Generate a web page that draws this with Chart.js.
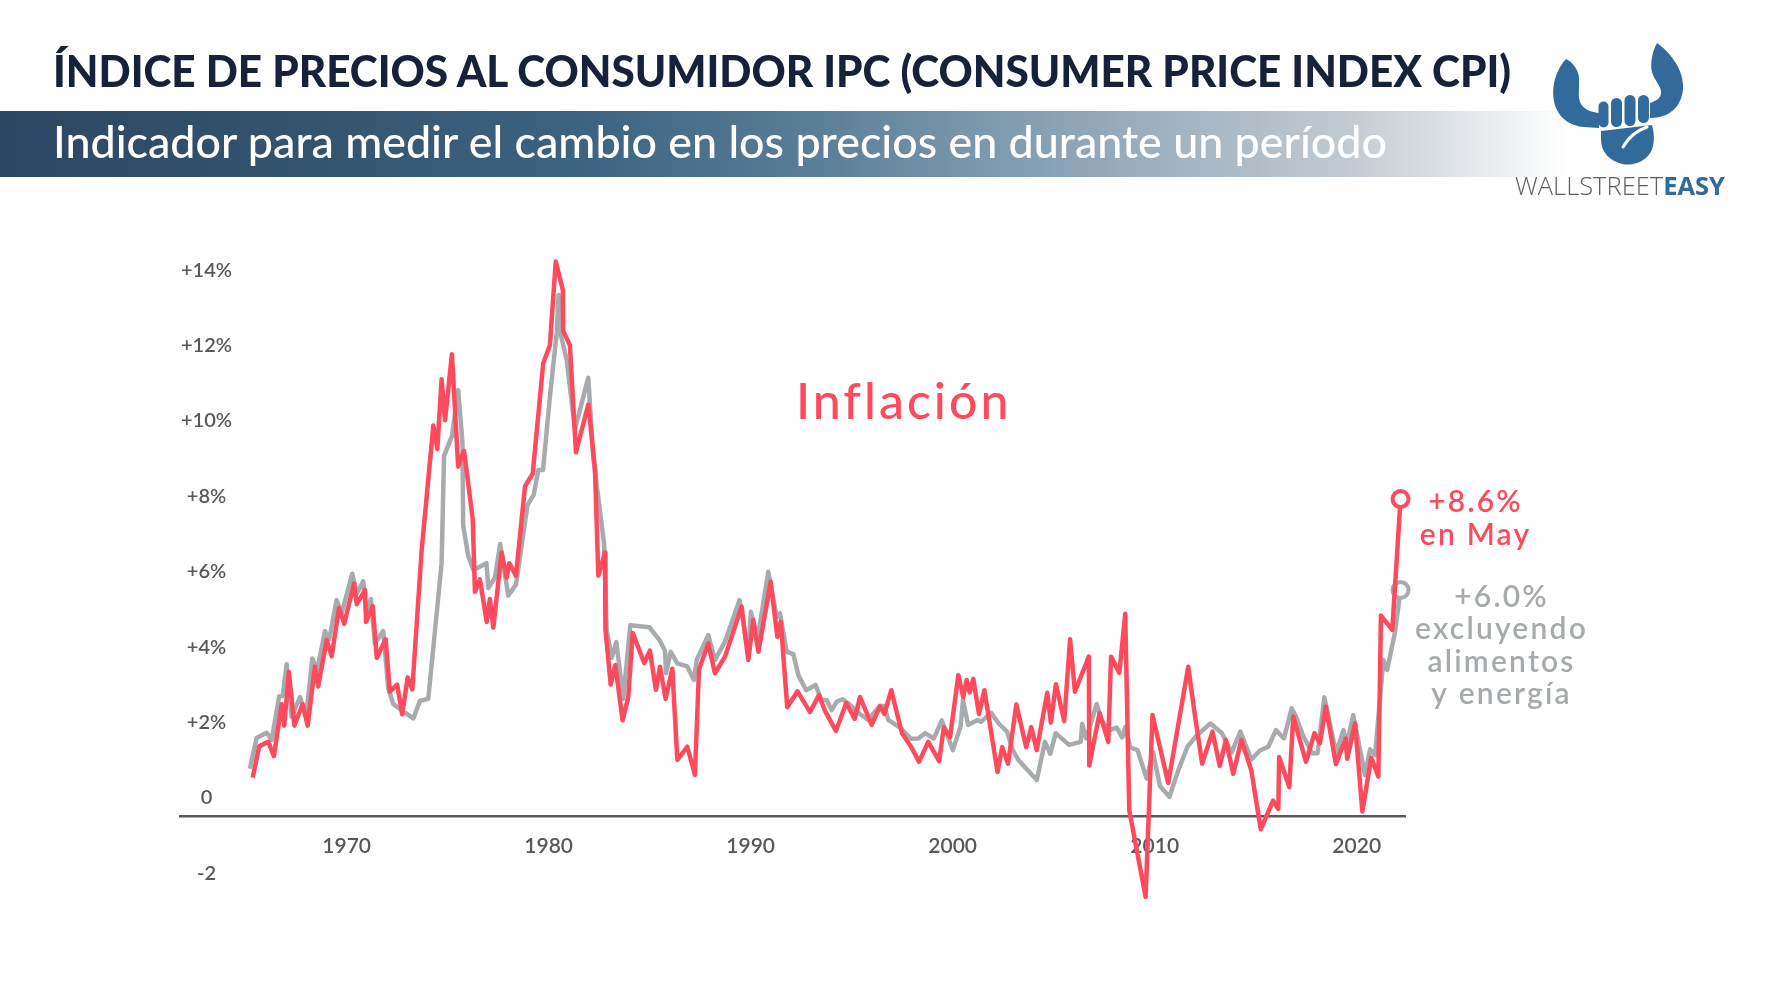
<!DOCTYPE html>
<html lang="es">
<head>
<meta charset="utf-8">
<title>Índice de precios al consumidor</title>
<script src="https://cdn.jsdelivr.net/npm/chart.js"></script>
<style>
  html, body { margin: 0; padding: 0; background: #ffffff; }
  #page { position: relative; width: 1771px; height: 1000px; overflow: hidden; background: #ffffff; }
  #chart { position: absolute; left: 0; top: 0; }
  #title { position: absolute; left: 53px; top: 48px; font: 900 44px/44px Lato, sans-serif; color: #17213a; white-space: nowrap; transform-origin: 0 0; }
  #banner { position: absolute; left: 0; top: 111px; width: 1565px; height: 66px;
    background: linear-gradient(to right, #2c4763 0%, #33546f 20%, #3d6482 38%, #5a7e98 52%, #7f9bb0 64%, #a4b5c2 76%, #c2cad1 86%, #e4e7ea 94%, rgba(255,255,255,0) 100%); }
  #subtitle { position: absolute; left: 53px; top: 119px; font: 500 44px/44px Lato, sans-serif; color: #ffffff; white-space: nowrap; transform-origin: 0 0; }
  #logo { position: absolute; left: 1480px; top: 30px; }
  #brand { position: absolute; left: 1515px; top: 173px; font: 25px/25px 'Open Sans', sans-serif; white-space: nowrap; transform-origin: 0 0; }
  #brand .wall { font-weight: 300; color: #5d5e60; }
  #brand .easy { font-weight: 700; color: #336a9c; }
</style>
</head>
<body>
<div id="page">
  <canvas id="chart" width="1771" height="1000"></canvas>
  <div id="title">ÍNDICE DE PRECIOS AL CONSUMIDOR IPC (CONSUMER PRICE INDEX CPI)</div>
  <div id="banner"></div>
  <div id="subtitle">Indicador para medir el cambio en los precios en durante un período</div>
  <svg id="logo" width="291" height="180" viewBox="0 0 291 180">
    <g fill="#336a9c">
      <path d="M86,29 C74,42 70,62 76,78 C81,90 92,96 104,97 L119,98 L119,83 C110,82 103,79 100,72 C97,64 101,52 98,43 C96,37 92,32 86,29 Z"/>
      <path d="M177,13 C190,22 202,38 203,54 C204,68 197,80 186,85 C181,87 176,88 170,88 L170,73 C176,71 181,68 181,63 C182,57 174,50 172,42 C170,34 172,22 177,13 Z"/>
      <rect x="118.5" y="71.5" width="10" height="26" rx="5"/>
      <rect x="131" y="68" width="11" height="29" rx="5.5"/>
      <rect x="144.5" y="65" width="11" height="31" rx="5.5"/>
      <rect x="158" y="65" width="11" height="28" rx="5.5"/>
      <path d="M121,101 L172,95 C175,106 175,118 168,126 C161,133 151,136 142,134 C130,131 121,122 121,110 Z"/>
    </g>
    <path d="M143,117 C148,108 156,101 167,97" fill="none" stroke="#ffffff" stroke-width="3" stroke-linecap="round"/>
  </svg>
  <div id="brand"><span class="wall">WALLSTREET</span><span class="easy">EASY</span></div>
</div>
<script>
// Year-over-year change, %; x positions are decimal years
const cpiYears = [
  1965.35, 1965.67, 1966.12, 1966.40, 1966.78, 1966.91, 1967.14, 1967.41, 1967.82, 1968.07,
  1968.43, 1968.59, 1969.01, 1969.26, 1969.62, 1969.88, 1970.36, 1970.50, 1970.91, 1970.96,
  1971.29, 1971.49, 1971.93, 1972.14, 1972.50, 1972.75, 1973.02, 1973.25, 1973.71, 1974.29,
  1974.49, 1974.70, 1974.87, 1975.21, 1975.52, 1975.81, 1976.24, 1976.35, 1976.60, 1976.93,
  1977.09, 1977.26, 1977.67, 1977.92, 1978.05, 1978.38, 1978.83, 1979.21, 1979.73, 1980.06,
  1980.35, 1980.70, 1980.72, 1981.05, 1981.35, 1981.96, 1982.29, 1982.46, 1982.79, 1982.81,
  1983.07, 1983.30, 1983.66, 1983.94, 1984.16, 1984.73, 1985.01, 1985.31, 1985.51, 1985.79,
  1986.12, 1986.37, 1986.86, 1987.24, 1987.44, 1987.90, 1988.23, 1988.73, 1989.55, 1989.88,
  1990.13, 1990.38, 1990.99, 1991.32, 1991.49, 1991.81, 1992.32, 1992.94, 1993.38, 1993.68,
  1994.22, 1994.73, 1995.15, 1995.41, 1995.99, 1996.40, 1996.62, 1996.96, 1997.49, 1997.94,
  1998.33, 1998.79, 1999.33, 1999.56, 1999.87, 2000.28, 2000.52, 2000.69, 2000.84, 2001.02,
  2001.30, 2001.57, 2002.22, 2002.45, 2002.74, 2003.15, 2003.64, 2003.89, 2004.16, 2004.68,
  2004.86, 2005.11, 2005.52, 2005.81, 2006.05, 2006.74, 2006.76, 2007.27, 2007.70, 2007.84,
  2008.25, 2008.54, 2008.74, 2009.55, 2009.89, 2010.67, 2011.66, 2011.99, 2012.35, 2012.86,
  2013.22, 2013.52, 2013.89, 2014.29, 2014.78, 2015.25, 2015.86, 2016.12, 2016.16, 2016.66,
  2016.86, 2017.49, 2017.91, 2018.18, 2018.47, 2018.97, 2019.45, 2019.53, 2019.92, 2020.28,
  2020.72, 2021.07, 2021.20, 2021.76, 2022.17
];
const cpiValues = [
  1.03, 1.86, 1.98, 1.60, 2.98, 2.41, 3.83, 2.41, 2.98, 2.41,
  3.97, 3.45, 4.68, 4.25, 5.53, 5.11, 6.18, 5.63, 6.01, 5.16,
  5.58, 4.21, 4.70, 3.31, 3.50, 2.71, 3.69, 3.37, 7.05, 10.37,
  9.75, 11.60, 10.51, 12.26, 9.28, 9.70, 7.90, 5.96, 6.29, 5.16,
  5.77, 5.01, 7.00, 6.34, 6.72, 6.39, 8.76, 9.09, 12.02, 12.50,
  14.72, 13.97, 12.88, 12.50, 9.66, 10.93, 9.23, 6.39, 7.00, 4.97,
  3.50, 4.02, 2.55, 3.17, 4.87, 4.07, 4.40, 3.36, 3.97, 3.12,
  3.92, 1.50, 1.85, 1.10, 3.89, 4.59, 3.80, 4.24, 5.57, 4.15,
  5.21, 4.37, 6.23, 4.77, 5.17, 2.90, 3.32, 2.77, 3.22, 2.80,
  2.27, 3.01, 2.59, 3.17, 2.43, 2.92, 2.72, 3.35, 2.21, 1.85,
  1.45, 1.98, 1.47, 2.36, 2.10, 3.75, 3.17, 3.62, 3.29, 3.65,
  2.72, 3.35, 1.18, 1.84, 1.40, 2.97, 1.84, 2.37, 1.76, 3.28,
  2.49, 3.51, 2.53, 4.70, 3.31, 4.24, 1.35, 2.74, 1.98, 4.24,
  3.81, 5.38, 0.17, -2.13, 2.69, 0.89, 3.97, 2.69, 1.40, 2.25,
  1.34, 2.03, 1.13, 2.03, 1.23, -0.34, 0.42, 0.20, 1.58, 0.78,
  2.65, 1.45, 2.21, 1.94, 2.92, 1.39, 2.07, 1.53, 2.47, 0.13,
  1.56, 1.06, 5.33, 4.95, 8.42
];
// Core CPI (excluding food and energy)
const coreYears = [
  1965.21, 1965.54, 1966.04, 1966.29, 1966.66, 1966.83, 1967.03, 1967.28, 1967.69, 1967.99,
  1968.30, 1968.54, 1968.93, 1969.14, 1969.50, 1969.75, 1970.28, 1970.50, 1970.82, 1970.96,
  1971.20, 1971.40, 1971.81, 1972.06, 1972.31, 1972.92, 1973.30, 1973.63, 1974.04, 1974.70,
  1974.82, 1975.21, 1975.52, 1975.73, 1975.77, 1976.02, 1976.27, 1976.92, 1977.01, 1977.34,
  1977.60, 1978.00, 1978.38, 1978.95, 1979.26, 1979.49, 1979.72, 1980.06, 1980.40, 1980.49,
  1980.58, 1980.89, 1981.30, 1981.55, 1981.96, 1982.21, 1982.74, 1982.87, 1983.12, 1983.35,
  1983.69, 1984.04, 1984.98, 1985.49, 1985.76, 1985.81, 1986.04, 1986.37, 1986.86, 1987.19,
  1987.33, 1987.90, 1988.23, 1988.73, 1989.45, 1989.88, 1990.01, 1990.33, 1990.87, 1991.29,
  1991.45, 1991.78, 1992.11, 1992.36, 1992.74, 1993.21, 1993.50, 1993.76, 1994.01, 1994.27,
  1994.55, 1994.83, 1995.25, 1995.82, 1996.40, 1996.62, 1996.81, 1997.39, 1997.94, 1998.30,
  1998.63, 1999.07, 1999.46, 2000.01, 2000.39, 2000.51, 2000.76, 2001.23, 2001.40, 2001.90,
  2002.29, 2002.69, 2002.99, 2003.25, 2004.16, 2004.57, 2004.83, 2005.10, 2005.76, 2006.34,
  2006.41, 2006.61, 2007.13, 2007.38, 2007.70, 2008.12, 2008.39, 2008.55, 2008.79, 2009.15,
  2009.60, 2009.92, 2010.26, 2010.73, 2011.17, 2011.62, 2012.08, 2012.76, 2013.33, 2013.81,
  2014.24, 2014.78, 2015.21, 2015.62, 2016.00, 2016.40, 2016.78, 2016.99, 2017.35, 2017.79,
  2018.06, 2018.40, 2018.98, 2019.34, 2019.50, 2019.83, 2020.41, 2020.66, 2020.91, 2021.32,
  2021.51, 2021.90, 2022.17
];
const coreValues = [
  1.27, 2.08, 2.22, 2.03, 3.19, 3.19, 4.04, 2.64, 3.17, 2.64,
  4.19, 3.88, 4.92, 4.70, 5.74, 5.39, 6.44, 5.91, 6.24, 5.44,
  5.77, 4.59, 4.92, 3.40, 2.98, 2.74, 2.60, 3.07, 3.12, 6.72,
  9.56, 10.09, 11.31, 9.93, 7.71, 6.91, 6.54, 6.72, 6.06, 6.33,
  7.23, 5.86, 6.15, 8.26, 8.53, 9.19, 9.19, 11.13, 12.84, 13.83,
  12.82, 12.12, 10.27, 10.79, 11.64, 9.51, 7.25, 4.95, 4.21, 4.63,
  3.12, 5.07, 5.02, 4.68, 4.39, 3.80, 4.37, 4.06, 3.98, 3.62,
  4.15, 4.81, 4.15, 4.64, 5.74, 4.33, 5.43, 4.68, 6.49, 5.29,
  5.39, 4.37, 4.31, 3.75, 3.35, 3.49, 3.09, 3.09, 2.82, 3.05,
  3.11, 3.00, 2.78, 2.56, 2.94, 2.93, 2.56, 2.36, 2.06, 2.07,
  2.21, 2.07, 2.55, 1.76, 2.39, 3.09, 2.43, 2.56, 2.51, 2.75,
  2.46, 2.25, 1.74, 1.50, 0.97, 1.98, 1.66, 2.21, 1.90, 1.98,
  2.46, 2.07, 2.98, 2.56, 2.27, 2.36, 2.10, 2.38, 1.83, 1.76,
  1.01, 1.70, 0.81, 0.52, 1.23, 1.85, 2.15, 2.47, 2.21, 1.70,
  2.25, 1.51, 1.75, 1.85, 2.29, 2.07, 2.87, 2.65, 2.14, 1.68,
  1.68, 3.16, 1.68, 2.29, 1.90, 2.69, 1.10, 1.78, 1.63, 4.15,
  3.89, 4.90, 6.01
];

const xTicks = [1970, 1980, 1990, 2000, 2010, 2020];
const yTicks = [-2, 0, 2, 4, 6, 8, 10, 12, 14];
const yTickLabels = ['-2', '0', '+2%', '+4%', '+6%', '+8%', '+10%', '+12%', '+14%'];

const seriesTitle = 'Inflación';
const cpiNote = ['+8.6%', 'en May'];
const coreNote = ['+6.0%', 'excluyendo', 'alimentos', 'y energía'];

const RED = '#fd4a5c';
const GRAY = '#a8abae';
const AXIS_TEXT = '#58595b';

function fitWidth(id, target) {
  const el = document.getElementById(id);
  const w = el.getBoundingClientRect().width;
  el.style.transform = 'scaleX(' + (target / w) + ')';
}
fitWidth('title', 1458);
fitWidth('subtitle', 1334);
fitWidth('brand', 210);

// Text annotations next to the series
const notesPlugin = {
  id: 'notes',
  afterDatasetsDraw(chart) {
    const ctx = chart.ctx;
    const xs = chart.scales.x;
    const ys = chart.scales.y;
    const redPts = chart.getDatasetMeta(0).data;
    const grayPts = chart.getDatasetMeta(1).data;
    const redEnd = redPts[redPts.length - 1];
    const grayEnd = grayPts[grayPts.length - 1];

    ctx.save();
    ctx.fillStyle = RED;
    ctx.textAlign = 'left';
    ctx.textBaseline = 'alphabetic';
    ctx.font = '500 50px Lato';
    ctx.letterSpacing = '3px';
    ctx.fillText(seriesTitle, xs.getPixelForValue(1992.24), ys.getPixelForValue(10.54));

    ctx.font = '600 30px Lato';
    ctx.letterSpacing = '2.2px';
    ctx.textAlign = 'center';
    ctx.textBaseline = 'middle';
    cpiNote.forEach((t, i) => ctx.fillText(t, redEnd.x + 75, redEnd.y + 3 + i * 33.3));
    ctx.fillStyle = GRAY;
    coreNote.forEach((t, i) => ctx.fillText(t, grayEnd.x + 101, grayEnd.y + 7 + i * 32.5));
    ctx.restore();
  }
};

function endPoint(n) {
  return (c) => (c.dataIndex === n - 1 ? 8 : 0);
}

const ctx = document.getElementById('chart').getContext('2d');
new Chart(ctx, {
  type: 'line',
  data: {
    datasets: [{
      label: 'IPC',
      data: cpiYears.map((x, i) => ({ x: x, y: cpiValues[i] })),
      borderColor: RED,
      borderWidth: 4.5,
      borderJoinStyle: 'round',
      tension: 0,
      clip: false,
      pointRadius: endPoint(cpiYears.length),
      pointBackgroundColor: '#ffffff',
      pointBorderColor: RED,
      pointBorderWidth: 4
    }, {
      label: 'IPC subyacente',
      data: coreYears.map((x, i) => ({ x: x, y: coreValues[i] })),
      borderColor: GRAY,
      borderWidth: 4.5,
      borderJoinStyle: 'round',
      tension: 0,
      clip: false,
      pointRadius: endPoint(coreYears.length),
      pointBackgroundColor: '#ffffff',
      pointBorderColor: GRAY,
      pointBorderWidth: 4
    }]
  },
  options: {
    responsive: false,
    animation: false,
    layout: {
      padding: { left: 175, right: 365, top: 251, bottom: 138.7 }
    },
    plugins: {
      legend: { display: false },
      tooltip: { enabled: false }
    },
    scales: {
      x: {
        type: 'linear',
        min: 1961.70,
        max: 2022.44,
        afterBuildTicks: (scale) => { scale.ticks = xTicks.map(v => ({ value: v })); },
        grid: { display: false, drawTicks: false },
        border: { display: false },
        ticks: {
          autoSkip: false,
          maxRotation: 0,
          padding: 2,
          color: AXIS_TEXT,
          font: { family: 'Lato', size: 21, weight: 600 },
          callback: (v) => String(v)
        }
      },
      y: {
        type: 'linear',
        min: -0.414,
        max: 15,
        afterBuildTicks: (scale) => { scale.ticks = yTicks.map(v => ({ value: v })); },
        grid: {
          drawTicks: false,
          lineWidth: 2.5,
          color: (c) => (c.tick && c.tick.value === 0 ? '#5a5b5d' : 'rgba(0,0,0,0)')
        },
        border: { display: false },
        ticks: {
          mirror: true,
          crossAlign: 'center',
          padding: 2,
          labelOffset: -18.5,
          autoSkip: false,
          color: AXIS_TEXT,
          font: { family: 'Lato', size: 20, weight: 600 },
          callback: (v) => yTickLabels[yTicks.indexOf(v)]
        }
      }
    }
  },
  plugins: [notesPlugin]
});
</script>
</body>
</html>
